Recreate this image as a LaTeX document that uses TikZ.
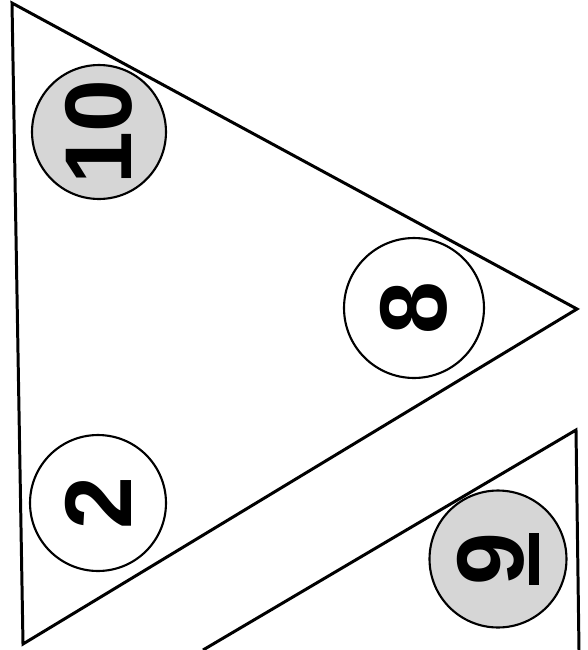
\documentclass[tikz,border=0pt]{standalone}
\usepackage{fontspec}
\setmainfont{Liberation Sans}
\newcommand{\barredDigit}[1]{\vtop{\hbox{#1}\kern3pt\hrule height 5.5pt}}
\tikzset{
    ballLabel/.style={
        circle,
        draw=black,
        line width=1.2pt,
        inner sep=0pt,
        rotate=90,
        font=\fontsize{54}{54}\selectfont\bfseries
    },
    shadedBall/.style={ballLabel, fill=black!16},
    plainBall/.style={ballLabel, fill=white},
    edgeLine/.style={line width=1.7pt, line join=miter}
}
\begin{document}
\begin{tikzpicture}[x=0.02cm, y=-0.02cm]
    \useasboundingbox (0,0) rectangle (588,650);

    % Big triangle
    \draw[edgeLine] (12,3) -- (577,309) -- (23,644) -- cycle;

    % Second triangle, cut off by the page edge
    \draw[edgeLine] (203,650) -- (576,430) -- (579,650);

    % Numbered balls
    \node[shadedBall, minimum size=2.68cm] (ten) at (99,132) {10};
    \node[plainBall, minimum size=2.8cm] (eight) at (414,308) {8};
    \node[plainBall, minimum size=2.72cm] (two) at (98,503) {2};
    \node[shadedBall, minimum size=2.74cm] (nine) at (498,559) {\barredDigit{9}};
\end{tikzpicture}
\end{document}
